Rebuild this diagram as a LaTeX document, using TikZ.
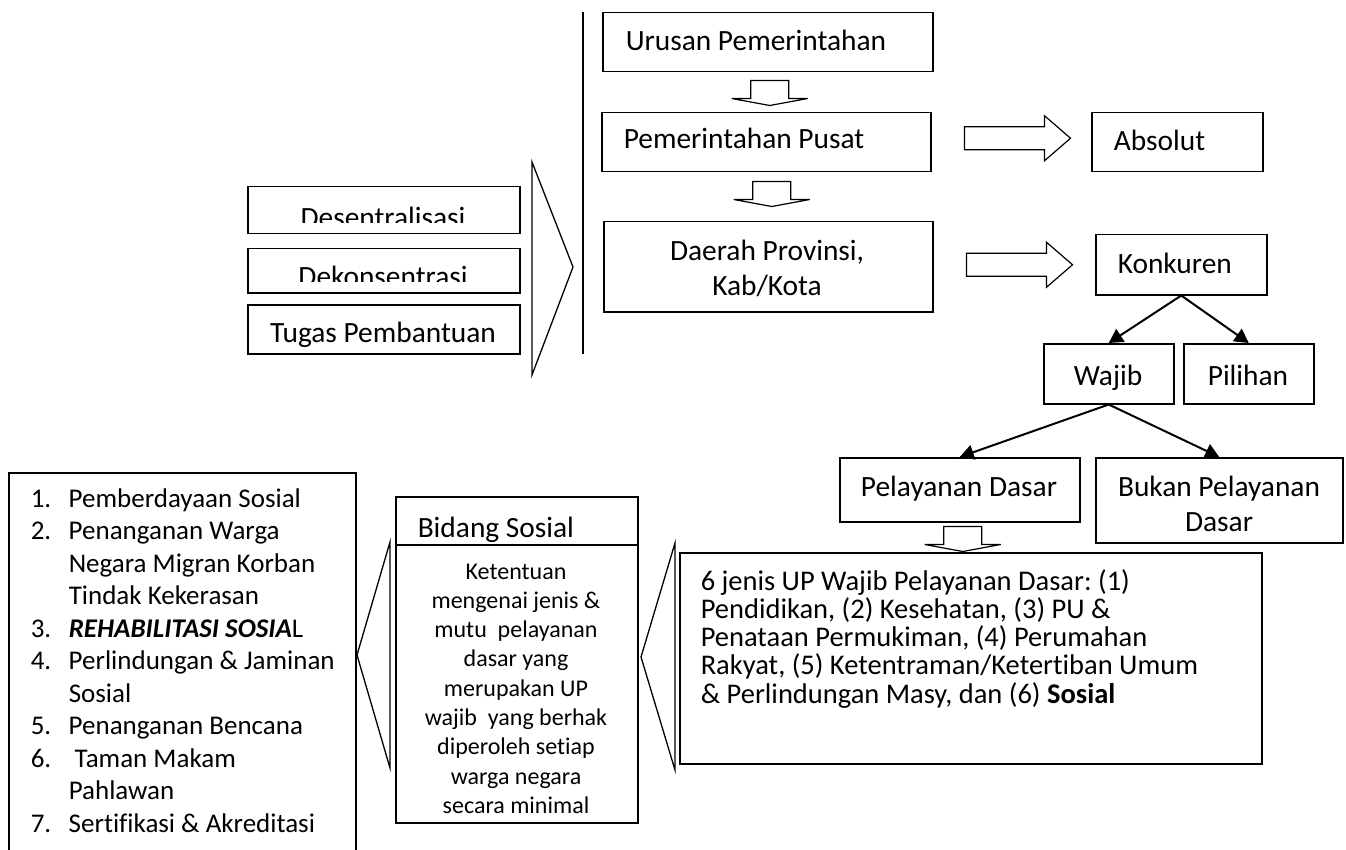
\documentclass[tikz,border=0pt]{standalone}
\usepackage{fontspec}
\setmainfont{Carlito}[Ligatures=NoCommon]
\usetikzlibrary{arrows.meta,calc}
\frenchspacing

\tikzset{every picture/.style={line width=1.5pt}}
\tikzset{
  kotak/.style={draw, line width=1.5pt, inner sep=0pt, anchor=north west},
  teks/.style={inner sep=0pt, font=\fontsize{29.4}{35}\selectfont},
  blok/.style={draw, line width=1.2pt, line join=miter},
  segitiga/.style={draw, line width=1.3pt},
  panah/.style={draw, line width=2pt, -{Triangle[length=14pt,width=15pt]}},
}
% hollow block arrows
\newcommand{\panahbawah}[1]{\draw[blok] (#1) ++(-19,0) -- ++(38,0) -- ++(0,18) -- ++(19,0) -- ++(-38,7) -- ++(-38,-7) -- ++(19,0) -- cycle;}
\newcommand{\panahkanan}[1]{\draw[blok] (#1) ++(0,-11.5) -- ++(80,0) -- ++(0,-11) -- ++(26,22.5) -- ++(-26,22.5) -- ++(0,-11) -- ++(-80,0) -- cycle;}
\newcommand{\nomor}[1]{\makebox[38pt][l]{#1}}

\begin{document}
\begin{tikzpicture}[x=1pt,y=1pt,yscale=-1]
            \useasboundingbox (0,0) rectangle (1346,850);
            \clip (0,0) rectangle (1346,850);

            % boxes
            \node[kotak, minimum width=330, minimum height=59] (urusan) at (602,12) {};
            \node[kotak, minimum width=329, minimum height=59] (pusat) at (601,112) {};
            \node[kotak, minimum width=329, minimum height=90] (daerah) at (603,221) {};
            \node[kotak, minimum width=272, minimum height=47] (desen) at (247,186) {};
            \node[kotak, minimum width=272, minimum height=44] (dekon) at (247,248) {};
            \node[kotak, minimum width=272, minimum height=49] (tugas) at (247,304) {};
            \node[kotak, minimum width=171, minimum height=59] (absolut) at (1091,112) {};
            \node[kotak, minimum width=171, minimum height=60] (konkuren) at (1095,234) {};
            \node[kotak, minimum width=130, minimum height=60] (wajib) at (1043,343) {};
            \node[kotak, minimum width=130, minimum height=60] (pilihan) at (1183,343) {};
            \node[kotak, minimum width=240, minimum height=64] (pelayanan) at (839,457) {};
            \node[kotak, minimum width=247, minimum height=85] (bukan) at (1095,457) {};
            \node[kotak, minimum width=582, minimum height=211] (uraian) at (679,552) {};
            \node[kotak, minimum width=242, minimum height=326] (bidang) at (395,496) {};
            \node[kotak, minimum width=347, minimum height=430] (daftar) at (8,472) {};
            \draw ($(bidang.north west)+(0,49)$) -- ($(bidang.north east)+(0,49)$);

            % vertical rule and chevrons
            \draw (583,12) -- (583,354);
            \draw[segitiga] (532,162) -- (573,267) -- (532,375) -- cycle;
            \draw[segitiga] (390,542) -- (357,655) -- (390,768) -- cycle;
            \draw[segitiga] (675,543) -- (641,657) -- (675,770) -- cycle;

            % block arrows
            \panahbawah{$(urusan.south)+(2,8)$}
            \panahbawah{$(pusat.south)+(5.5,9)$}
            \panahbawah{$(pelayanan.south)+(3,4)$}
            \panahkanan{$(pusat.east)+(33,-4)$}
            \panahkanan{$(daerah.east)+(33,-2)$}

            % arrows
            \draw[panah] (konkuren.south) -- (wajib.north);
            \draw[panah] (konkuren.south) -- (pilihan.north);
            \draw[panah] (wajib.south) -- (pelayanan.north);
            \draw[panah] (wajib.south) -- (bukan.north);

            % texts
            \node[teks, anchor=base west] (tUrusan) at (625,51) {Urusan Pemerintahan};
            \node[teks, anchor=base west] (tPusat) at (623,149) {Pemerintahan Pusat};
            \node[teks, anchor=base, text width=300, align=flush center] (tDaerah) at (767,261) {Daerah Provinsi,\\ Kab/Kota};
            \begin{scope}
              \clip (247,186) rectangle (519,223);
              \node[teks, anchor=base] (tDesen) at (383,228) {Desentralisasi};
            \end{scope}
            \begin{scope}
              \clip (247,248) rectangle (519,282);
              \node[teks, anchor=base] (tDekon) at (383,287) {Dekonsentrasi};
            \end{scope}
            \node[teks, anchor=base] (tTugas) at (383,342) {Tugas Pembantuan};
            \node[teks, anchor=base west] (tAbsolut) at (1113,151) {Absolut};
            \node[teks, anchor=base west] (tKonkuren) at (1117,274) {Konkuren};
            \node[teks, anchor=base] (tWajib) at (1108,385) {Wajib};
            \node[teks, anchor=base] (tPilihan) at (1248,385) {Pilihan};
            \node[teks, anchor=base] (tPelayanan) at (959,496) {Pelayanan Dasar};
            \node[teks, anchor=base, text width=240, align=flush center] (tBukan) at (1219,496) {Bukan Pelayanan\\ Dasar};
            \node[teks, anchor=base west, text width=555, align=flush left, font=\fontsize{28.5}{28.3}\selectfont] (tUraian) at (700,590) {6 jenis UP Wajib Pelayanan Dasar: (1)\\ Pendidikan, (2) Kesehatan, (3) PU \&\\ Penataan Permukiman, (4) Perumahan\\ Rakyat, (5) Ketentraman/Ketertiban Umum\\ \& Perlindungan Masy, dan (6) \textbf{Sosial}};
            \begin{scope}
              \clip (395,496) rectangle (637,544);
              \node[teks, anchor=base west] (tBidang) at (417,537) {Bidang Sosial};
            \end{scope}
            \node[teks, anchor=base, text width=236, align=flush center, font=\fontsize{24}{29.3}\selectfont] (tKetentuan) at (516,579) {Ketentuan\\ mengenai jenis \&\\ mutu\ \ pelayanan\\ dasar yang\\ merupakan UP\\ wajib\ \ yang berhak\\ diperoleh setiap\\ warga negara\\ secara minimal};
            \node[teks, anchor=base west, text width=320, align=flush left, font=\fontsize{27}{32.5}\selectfont] (tDaftar) at (30,507) {\nomor{1.}Pemberdayaan Sosial\\ \nomor{2.}Penanganan Warga\\ \hspace*{38pt}Negara Migran Korban\\ \hspace*{38pt}Tindak Kekerasan\\ \nomor{3.}\textbf{\textit{REHABILITASI SOSIA}}L\\ \nomor{4.}Perlindungan \& Jaminan\\ \hspace*{38pt}Sosial\\ \nomor{5.}Penanganan Bencana\\ \nomor{6.}\hspace{6pt}Taman Makam\\ \hspace*{38pt}Pahlawan\\ \nomor{7.}Sertifikasi \& Akreditasi};

        \end{tikzpicture}
\end{document}
